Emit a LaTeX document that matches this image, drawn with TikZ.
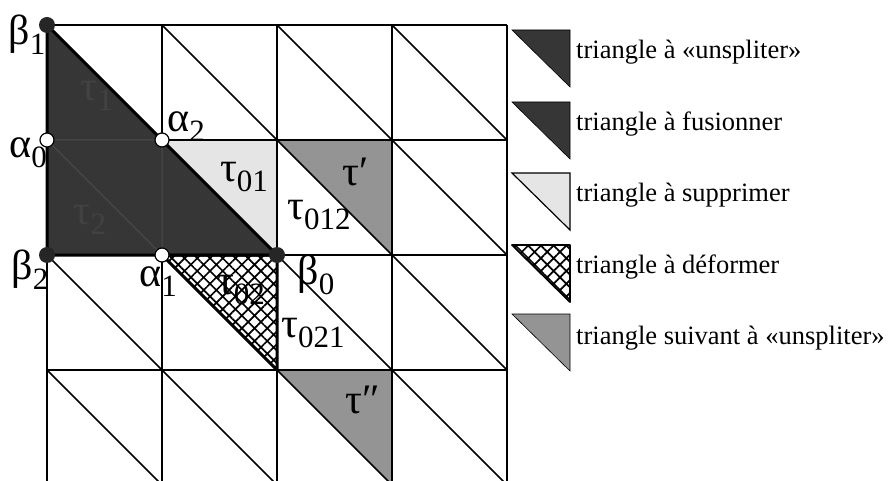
\documentclass[tikz,border=0pt]{standalone}
\usepackage{fontspec}
\setmainfont{Liberation Serif}
\usetikzlibrary{patterns.meta}

% Greek letter with a large, lowered index
\newcommand{\gsub}[2]{#1\raisebox{-0.24em}{\fontsize{31}{31}\selectfont #2}}

\begin{document}
\begin{tikzpicture}[
    x=1pt, y=-1pt,
    grid/.style={line width=1.6pt, black},
    inner/.style={line width=1pt, black!70},
    darkfill/.style={fill=black!79},
    midfill/.style={fill=black!42},
    lightfill/.style={fill=black!10},
    hatchfill/.style={pattern={Hatch[angle=45, distance=9pt, line width=1.7pt]}},
    opendot/.style={circle, draw=black, fill=white, line width=1.2pt,
                    inner sep=0pt, minimum size=14pt},
    fulldot/.style={circle, fill=black!85, inner sep=0pt, minimum size=16pt},
    lbl/.style={font=\fontsize{42}{42}\selectfont, inner sep=0pt},
    legtxt/.style={anchor=west, font=\fontsize{26.5}{26.5}\selectfont, inner sep=0pt},
]
    \useasboundingbox (0,0) rectangle (890,481);

    % Points of the mesh
    \coordinate (pb1) at (47,25);
    \coordinate (pa0) at (47,140);
    \coordinate (pb2) at (47,255);
    \coordinate (pa2) at (162,140);
    \coordinate (pa1) at (162,255);
    \coordinate (pb0) at (277,255);
    \coordinate (c21) at (277,140);
    \coordinate (c31) at (392,140);
    \coordinate (c32) at (392,255);
    \coordinate (c23) at (277,370);
    \coordinate (c33) at (392,370);
    \coordinate (c34) at (392,485);

    \begin{scope}
    \clip (0,0) rectangle (890,481);
    % Shaded triangles
    \fill[lightfill] (pa2) -- (c21) -- (pb0) -- cycle;
    \fill[midfill] (c21) -- (c31) -- (c32) -- cycle;
    \fill[midfill] (c23) -- (c33) -- (c34) -- cycle;
    \fill[hatchfill] (pa1) -- (pb0) -- (c23) -- cycle;

    % Grid
    \foreach \i in {0,...,4} {
        \draw[grid] (47+115*\i,25) -- (47+115*\i,485);
        \draw[grid] (47,25+115*\i) -- (507,25+115*\i);
    }
    \foreach \i in {0,...,3}
        \foreach \j in {0,...,3}
            \draw[grid] (47+115*\i,25+115*\j) -- ++(115,115);
    \end{scope}

    % Region to unsplit / merge
    \filldraw[darkfill, draw=black, line width=3pt, line join=round]
        (pb1) -- (pb2) -- (pb0) -- cycle;
    \draw[inner] (pa0) -- (pa2) -- (pa1) (pa0) -- (pa1);
    \node[lbl, text=black!74] (t1) at (97,96) {\gsub{τ}{1}};
    \node[lbl, text=black!74] (t2) at (90,220) {\gsub{τ}{2}};

    % Triangle to deform
    \draw[line width=3pt, line join=round] (pa1) -- (pb0) -- (c23) -- cycle;

    % Vertices
    \node[fulldot] (b1) at (pb1) {};
    \node[fulldot] (b2) at (pb2) {};
    \node[fulldot] (b0) at (pb0) {};
    \node[opendot] (a0) at (pa0) {};
    \node[opendot] (a2) at (pa2) {};
    \node[opendot] (a1) at (pa1) {};

    % Labels
    \node[lbl] (lb1) at (27,35) {\gsub{β}{1}};
    \node[lbl] (la0) at (28,153) {\gsub{α}{0}};
    \node[lbl] (lb2) at (30,270) {\gsub{β}{2}};
    \node[lbl] (la2) at (186,127) {\gsub{α}{2}};
    \node[lbl] (la1) at (158,282) {\gsub{α}{1}};
    \node[lbl] (lb0) at (316,275) {\gsub{β}{0}};
    \node[lbl] (t01) at (244,177) {\gsub{τ}{01}};
    \node[lbl] (t012) at (319,215) {\gsub{τ}{012}};
    \node[lbl] (tp) at (356,172) {τ′};
    \node[lbl] (t02) at (241,290) {\gsub{τ}{02}};
    \node[lbl] (t021) at (313,333) {\gsub{τ}{021}};
    \node[lbl] (tpp) at (363,400) {τ″};

    % Legend
    \filldraw[darkfill, draw=black, line width=0.6pt] (512,30) -- (570,30) -- (570,87) -- cycle;
    \node[legtxt] (l1) at (576,52) {triangle à «unspliter»};
    \filldraw[darkfill, draw=black, line width=0.6pt] (512,102) -- (570,102) -- (570,159) -- cycle;
    \node[legtxt] (l2) at (576,124) {triangle à fusionner};
    \filldraw[lightfill, draw=black, line width=1.2pt] (512,173) -- (570,173) -- (570,230) -- cycle;
    \node[legtxt] (l3) at (576,195) {triangle à supprimer};
    \fill[hatchfill] (512,245) -- (570,245) -- (570,302) -- cycle;
    \draw[line width=1.8pt, line join=round] (512,245) -- (570,245) -- (570,302) -- cycle;
    \node[legtxt] (l4) at (576,267) {triangle à déformer};
    \filldraw[midfill, draw=black, line width=0.6pt] (512,314) -- (570,314) -- (570,371) -- cycle;
    \node[legtxt] (l5) at (576,338) {triangle suivant à «unspliter»};
\end{tikzpicture}
\end{document}
